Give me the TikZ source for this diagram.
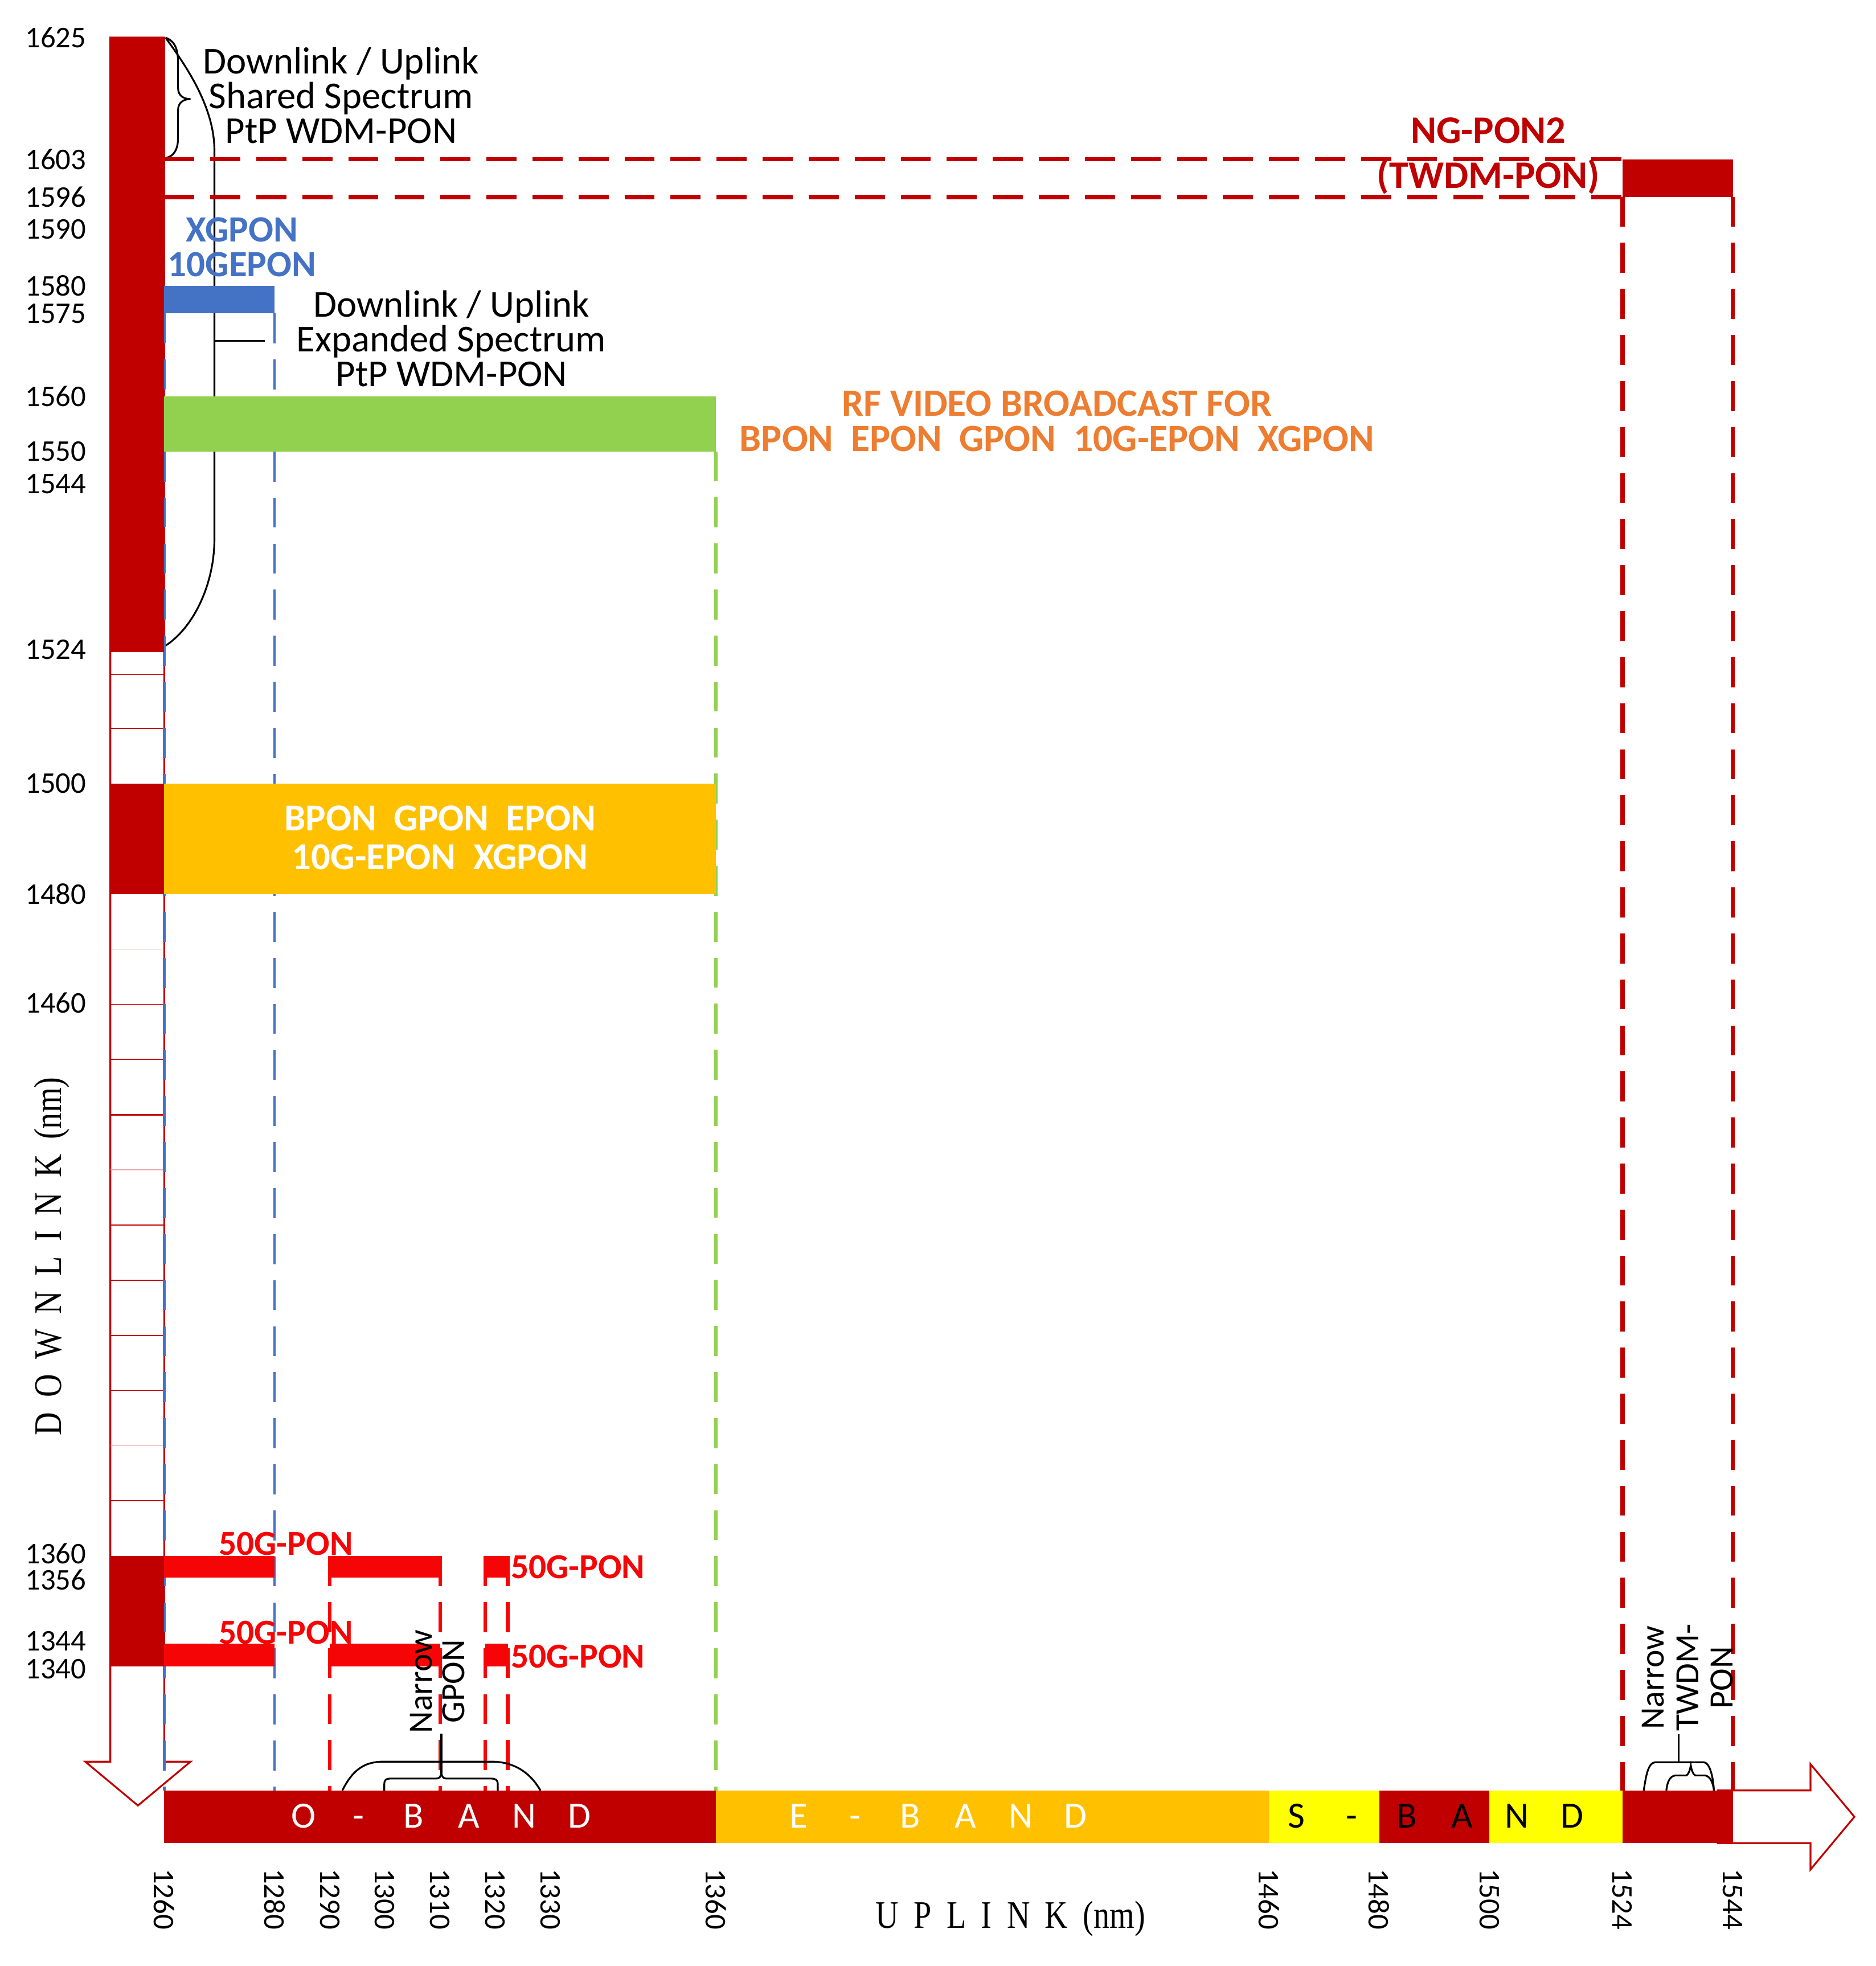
\documentclass[tikz,border=0pt]{standalone}
\usepackage{fontspec}
\setmainfont{Carlito}
\newfontfamily\axisfont[FakeStretch=0.82]{Liberation Serif}
\definecolor{dred}{HTML}{C00000}
\definecolor{bred}{RGB}{245,5,5}
\definecolor{xblue}{HTML}{4472C4}
\definecolor{xgreen}{HTML}{92D050}
\definecolor{xgold}{HTML}{FFC000}
\definecolor{xyellow}{HTML}{FFFF00}
\definecolor{xorange}{HTML}{ED7D31}
\newcommand\axgap{\hspace{7.5pt}}
\begin{document}
\begin{tikzpicture}[x=0.022019cm, y=-0.022019cm,
  dl/.style={dash pattern=on 15pt off 8pt},
  ylab/.style={anchor=east, inner sep=0pt, font=\fontsize{15}{15}\selectfont},
  xlab/.style={anchor=west, rotate=-90, inner sep=0pt, font=\fontsize{15}{15}\selectfont},
  note/.style={align=center, inner sep=0pt, font=\fontsize{19}{17.3}\selectfont},
  boldlab/.style={align=center, inner sep=0pt, font=\bfseries\fontsize{18.5}{17.5}\selectfont},
  fiftylab/.style={inner sep=0pt, text=bred, font=\bfseries\fontsize{17.5}{17.5}\selectfont},
  bandch/.style={anchor=base, inner sep=0pt, font=\fontsize{18.5}{18.5}\selectfont},
  axlab/.style={anchor=base, inner sep=0pt, font=\axisfont\fontsize{19.5}{20}\selectfont},
  narrowlab/.style={rotate=90, align=center, inner sep=0pt},
  brk/.style={black, line width=0.9pt},
  thickdash/.style={dred, line width=2.2pt, dl},
  reddash/.style={bred, line width=1.8pt, dl},
  bluedash/.style={xblue, line width=1.3pt, dl},
  greendash/.style={xgreen, line width=1.6pt, dl},
  outline/.style={dred, line width=0.9pt, fill=white},
  ]
\useasboundingbox (0,0) rectangle (1496,1568);
\fill[white] (0,0) rectangle (1496,1568);

% ---------- left (downlink) arrow column ----------
\draw[outline] (88,30) -- (88,1405) -- (68,1405) -- (110,1440) -- (152,1405)
  -- (131,1405) -- (131,30) -- cycle;
\foreach \yy in {538,581,801,845,977,1021,1065,1109,1197}
  \draw[dred, line width=0.5pt] (88,\yy) -- (131,\yy);
\foreach \yy in {757,933,1153}
  \draw[dred!35, line width=0.5pt] (88,\yy) -- (131,\yy);
\draw[dred, line width=0.9pt] (88,889) -- (131,889);

% ---------- right (uplink) arrow ----------
\draw[outline] (1370,1428) -- (1444,1428) -- (1444,1407) -- (1479,1449)
  -- (1444,1491) -- (1444,1470) -- (1370,1470) -- cycle;

% ---------- black brackets behind bars ----------
\coordinate (bigtop) at (132,30);
\coordinate (bigbot) at (132,515);
\coordinate (bt) at (171,272);
\draw[brk] (bigtop) .. controls (148,52) and (171,85) .. (171,120) -- (171,430)
  .. controls (171,465) and (155,500) .. (bigbot);
\draw[brk] (bt) -- ++(40,0);
\draw[brk] (132,30) .. controls (140,33) and (142,40) .. (142,50) -- (142,70)
  .. controls (142,76) and (146,79) .. (152,79)
  .. controls (146,79) and (142,82) .. (142,88) -- (142,110)
  .. controls (142,120) and (138,125) .. (132,126);

% ---------- dashed guide lines ----------
\draw[bluedash] (131,250) -- (131,1428);
\draw[bluedash] (219,250) -- (219,1428);
\draw[greendash] (571,360) -- (571,1428);
\foreach \xx in {263,351,387,405}
  \draw[reddash] (\xx,1241) -- (\xx,1428);
\draw[thickdash] (131,127) -- (1294,127);
\draw[thickdash] (131,157) -- (1294,157);
\draw[thickdash] (1294,157) -- (1294,1428);
\draw[thickdash] (1382,157) -- (1382,1428);

% ---------- blocks on the downlink column ----------
\fill[dred] (88,30) rectangle (131,520);
\fill[dred] (88,625) rectangle (131,713);
\fill[dred] (88,1241) rectangle (131,1329);

% ---------- horizontal bars ----------
\fill[xblue] (131,228) rectangle (219,250);
\fill[xgreen] (131,316) rectangle (571,360);
\fill[xgold] (131,625) rectangle (571,713);
\fill[dred] (1294,127) rectangle (1382,157);
\foreach \ya/\yb in {1241/1258,1311/1329} {
  \fill[bred] (131,\ya) rectangle (219,\yb);
  \fill[bred] (263,\ya) rectangle (351,\yb);
  \fill[bred] (387,\ya) rectangle (405,\yb);
}

% ---------- bottom band ----------
\fill[dred] (131,1428) rectangle (571,1470);
\fill[xgold] (571,1428) rectangle (1012,1470);
\fill[xyellow] (1012,1428) rectangle (1100,1470);
\fill[dred] (1100,1428) rectangle (1188,1470);
\fill[xyellow] (1188,1428) rectangle (1294,1470);
\fill[dred] (1294,1428) rectangle (1382,1470);

\foreach \ch/\xx in {O/242,-/286,B/330,A/374,N/418,D/462}
  \node[bandch, text=white] (ob\xx) at (\xx,1458) {\ch};
\foreach \ch/\xx in {E/637,-/682,B/726,A/770,N/814,D/858}
  \node[bandch, text=white] (eb\xx) at (\xx,1458) {\ch};
\foreach \ch/\xx in {S/1034,-/1078,B/1122,A/1166,N/1210,D/1254}
  \node[bandch, text=black] (sb\xx) at (\xx,1458) {\ch};

% ---------- narrow GPON bracket ----------
\coordinate (gtip) at (352,1414);
\draw[brk] (273,1428) .. controls (282,1410) and (292,1405) .. (306,1405) -- (392,1405)
  .. controls (408,1405) and (422,1412) .. (431,1428);
\draw[brk] (306.5,1428) -- (306.5,1423) .. controls (306.5,1419.5) and (308,1418.5) .. (311,1418.5)
  -- (348,1418.5) .. controls (350.5,1418.5) and (351.5,1417) .. (gtip)
  .. controls (352.5,1417) and (353.5,1418.5) .. (356,1418.5) -- (392,1418.5)
  .. controls (395,1418.5) and (397,1419.5) .. (397,1423) -- (397,1428);
\node[narrowlab, font=\fontsize{17}{16.3}\selectfont] (ngpon) at (349,1341) {Narrow\\GPON};
\draw[brk] (gtip) -- (gtip |- ngpon.west);

% ---------- narrow TWDM-PON bracket ----------
\coordinate (ttop) at (1339,1405.5);
\draw[brk] (1311,1428) .. controls (1313,1414) and (1315,1406) .. (1320,1405.5) -- (1359,1405.5)
  .. controls (1363,1406) and (1366,1414) .. (1367,1428);
\draw[brk] (1329,1428) .. controls (1330,1420) and (1332,1417) .. (1336,1416) -- (1345,1416)
  .. controls (1347,1415) and (1348,1411) .. (1348.5,1408)
  .. controls (1349,1411) and (1350,1415) .. (1352,1416) -- (1360,1416)
  .. controls (1364,1417) and (1366,1421) .. (1367,1428);
\node[narrowlab, font=\fontsize{17}{17.2}\selectfont] (ntwdm) at (1346,1338) {Narrow\\TWDM-\\PON};
\draw[brk] (ttop) -- (1339,1383);

% ---------- labels ----------
\node[note] (shared) at (272,76) {Downlink / Uplink\\Shared Spectrum\\PtP WDM-PON};
\node[note] (expanded) at (360,270) {Downlink / Uplink\\Expanded Spectrum\\PtP WDM-PON};
\node[boldlab, text=xblue] (xgpon) at (193,197) {XGPON\\10GEPON};
\node[boldlab, text=xorange, font=\bfseries\fontsize{19.3}{17.5}\selectfont] (rf) at (843,336)
  {RF VIDEO BROADCAST FOR\\BPON\ \ EPON\ \ GPON\ \ 10G-EPON\ \ XGPON};
\node[boldlab, text=white, font=\bfseries\fontsize{19}{19.4}\selectfont] (bpon) at (351,668)
  {BPON\ \ GPON\ \ EPON\\10G-EPON\ \ XGPON};
\node[boldlab, text=dred, font=\bfseries\fontsize{19.5}{19.5}\selectfont] (ng1) at (1187,104) {NG-PON2};
\node[boldlab, text=dred, font=\bfseries\fontsize{19.5}{19.5}\selectfont] (ng2) at (1187,141) {(TWDM-PON)};
\node[fiftylab] (f1) at (228,1231) {50G-PON};
\node[fiftylab] (f2) at (228,1302) {50G-PON};
\node[fiftylab] (f3) at (461,1250) {50G-PON};
\node[fiftylab] (f4) at (461,1321) {50G-PON};

% ---------- axis tick labels ----------
\foreach \lab/\yy in {1625/30,1603/127,1596/157,1590/183,1580/228,1575/250,1560/316,
  1550/360,1544/386,1524/518,1500/625,1480/713,1460/800,1360/1239,1356/1260,1344/1309,1340/1331}
  \node[ylab] (yl\lab) at (69,\yy) {\lab};
\foreach \lab/\xx in {1260/131,1280/219,1290/263,1300/307,1310/351,1320/395,1330/439,
  1360/571,1460/1012,1480/1100,1500/1188,1524/1294,1544/1382}
  \node[xlab] (xl\lab) at (\xx,1490) {\lab};

% ---------- axis titles ----------
\node[axlab, rotate=90] (down) at (49,1002) {D\axgap O\axgap W\axgap N\axgap L\axgap I\axgap N\axgap K\axgap(nm)};
\node[axlab] (up) at (806,1538) {U\axgap P\axgap L\axgap I\axgap N\axgap K\axgap(nm)};
\end{tikzpicture}
\end{document}
